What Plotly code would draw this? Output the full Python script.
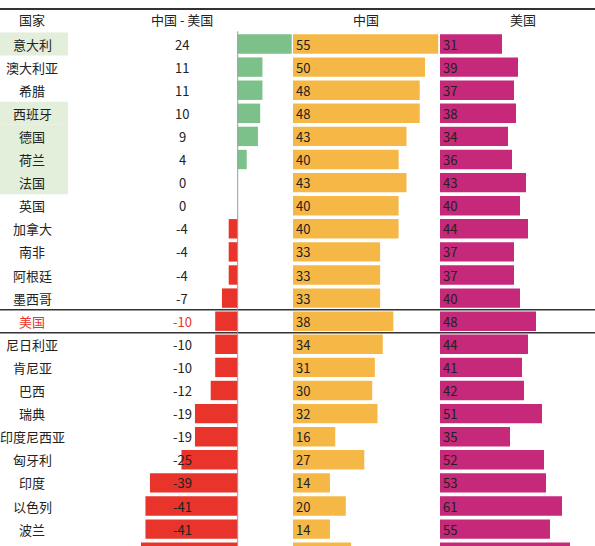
import plotly.graph_objects as go

# ---- data ----
countries = ["意大利", "澳大利亚", "希腊", "西班牙", "德国", "荷兰", "法国", "英国",
             "加拿大", "南非", "阿根廷", "墨西哥", "美国", "尼日利亚", "肯尼亚", "巴西",
             "瑞典", "印度尼西亚", "匈牙利", "印度", "以色列", "波兰", ""]
diff = [24, 11, 11, 10, 9, 4, 0, 0, -4, -4, -4, -7, -10, -10, -10, -12,
        -19, -19, -25, -39, -41, -41, -43]
china = [55, 50, 48, 48, 43, 40, 43, 40, 40, 33, 33, 33, 38, 34, 31, 30,
         32, 16, 27, 14, 20, 14, 22]
usa = [31, 39, 37, 38, 34, 36, 43, 40, 44, 37, 37, 40, 48, 44, 41, 42,
       51, 35, 52, 53, 61, 55, 65]
highlighted = ["意大利", "西班牙", "德国", "荷兰", "法国"]
focus = "美国"
headers = ["国家", "中国 - 美国", "中国", "美国"]

# ---- styling ----
W, H = 595, 546
FONT = "Noto Sans CJK SC"
TXT = "#222222"
GREEN = "#7cc08a"
RED = "#e8342a"
ORANGE = "#f5b847"
MAGENTA = "#c6287a"
HL = "#e3eedb"

rows = list(range(len(countries)))
diff_colors = [GREEN if d > 0 else RED for d in diff]
# the last row is cut off by the bottom edge in the reference: no labels shown
def lbl(v, c):
    return str(v) if c != "" else ""

fig = go.Figure()

fig.add_trace(go.Bar(
    y=rows, x=diff, orientation="h", marker=dict(color=diff_colors, line=dict(width=0)),
    width=0.84, xaxis="x", yaxis="y", hoverinfo="skip", showlegend=False))

fig.add_trace(go.Bar(
    y=rows, x=china, orientation="h", marker=dict(color=ORANGE, line=dict(width=0)),
    width=0.84, text=[lbl(v, c) for v, c in zip(china, countries)], textposition="inside",
    insidetextanchor="start", textangle=0, textfont=dict(family=FONT, size=13, color=TXT),
    constraintext="none", xaxis="x2", yaxis="y", hoverinfo="skip", showlegend=False))

fig.add_trace(go.Bar(
    y=rows, x=usa, orientation="h", marker=dict(color=MAGENTA, line=dict(width=0)),
    width=0.84, text=[lbl(v, c) for v, c in zip(usa, countries)], textposition="inside",
    insidetextanchor="start", textangle=0, textfont=dict(family=FONT, size=13, color=TXT),
    constraintext="none", xaxis="x3", yaxis="y", hoverinfo="skip", showlegend=False))

def px(xp):
    return xp / W

zero_px = 237.7
diff_scale = 2.25
china_scale = 2.64
usa_scale = 2.0

annotations = []
for i, c in enumerate(countries):
    if c == "":
        continue
    col = RED if c == focus else TXT
    annotations.append(dict(
        x=px(32), y=i, xref="paper", yref="y", text=c, showarrow=False,
        xanchor="center", yanchor="middle",
        font=dict(family=FONT, size=13, color=col)))
    annotations.append(dict(
        x=px(182), y=i, xref="paper", yref="y", text=str(diff[i]), showarrow=False,
        xanchor="center", yanchor="middle",
        font=dict(family=FONT, size=13, color=col)))

header_x = [32, 182, 366, 523]
for hx, ht in zip(header_x, headers):
    annotations.append(dict(
        x=px(hx), y=-1.08, xref="paper", yref="y", text=ht, showarrow=False,
        xanchor="center", yanchor="middle",
        font=dict(family=FONT, size=13, color=TXT)))

shapes = []
for i, c in enumerate(countries):
    if c in highlighted:
        shapes.append(dict(type="rect", xref="paper", yref="y",
                           x0=0, x1=px(68), y0=i - 0.5, y1=i + 0.5,
                           fillcolor=HL, line=dict(width=0), layer="below"))

shapes.append(dict(type="line", xref="paper", yref="y", x0=0, x1=1,
                   y0=-1.52, y1=-1.52, line=dict(color="#333333", width=2)))
fi = countries.index(focus)
for yy in (fi - 0.5, fi + 0.5):
    shapes.append(dict(type="line", xref="paper", yref="y", x0=0, x1=1,
                       y0=yy, y1=yy, line=dict(color="#333333", width=1.5)))
shapes.append(dict(type="line", xref="x", yref="y", x0=0, x1=0,
                   y0=-0.55, y1=len(rows), line=dict(color="#9a9a9a", width=1)))

y_bottom = (H - 44) / 23.1
y_top = -44 / 23.1

hidden = dict(visible=False, showgrid=False, zeroline=False, fixedrange=True)

fig.update_layout(
    width=W, height=H,
    margin=dict(l=0, r=0, t=0, b=0),
    paper_bgcolor="white", plot_bgcolor="rgba(0,0,0,0)",
    barmode="overlay",
    xaxis=dict(domain=[0, 292 / W], range=[-zero_px / diff_scale, (292 - zero_px) / diff_scale],
               anchor="y", **hidden),
    xaxis2=dict(domain=[293 / W, 440 / W], range=[0, (440 - 293) / china_scale],
                anchor="y", **hidden),
    xaxis3=dict(domain=[440 / W, 1], range=[0, (W - 440) / usa_scale],
                anchor="y", **hidden),
    yaxis=dict(range=[y_bottom, y_top], **hidden),
    annotations=annotations,
    shapes=shapes,
    font=dict(family=FONT),
    hovermode=False,
)

fig.write_html("out.html", config={"displayModeBar": False},
               post_script="document.body.style.margin='0';document.body.style.overflow='hidden';")
